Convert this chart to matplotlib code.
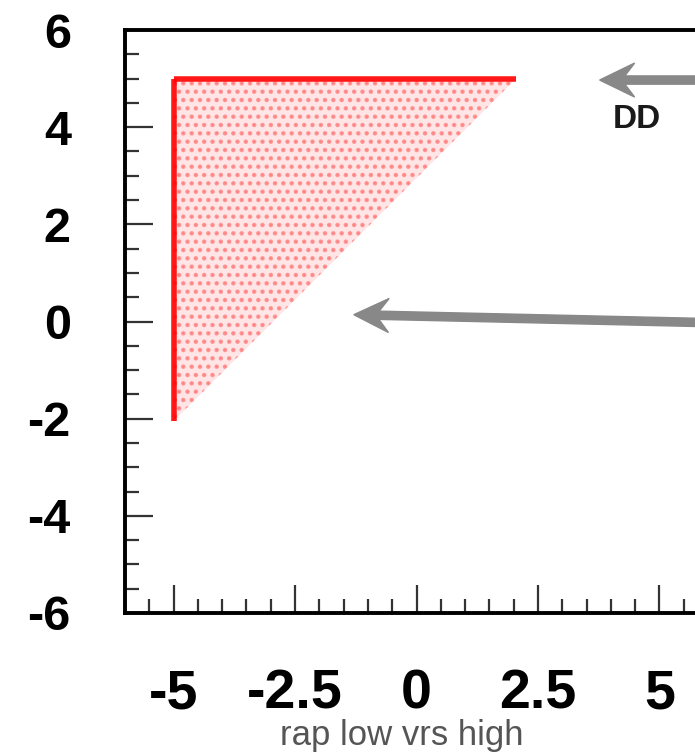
import numpy as np
import matplotlib.pyplot as plt
from matplotlib.patches import Polygon
from matplotlib.ticker import MultipleLocator

plt.rcParams['font.family'] = ['Liberation Sans', 'DejaVu Sans']
plt.rcParams['hatch.linewidth'] = 2.0

# region filled by the events (rap low vs rap high)
tri_x = [-5.0, 2.05, -5.0]
tri_y = [5.0, 5.0, -2.05]

# dense edges of the region
edge_v_x = [-5.0, -5.0]
edge_v_y = [-2.05, 5.0]
edge_h_x = [-5.0, 2.05]
edge_h_y = [5.0, 5.0]

xticks = [-5, -2.5, 0, 2.5, 5]
xticklabels = ['-5', '-2.5', '0', '2.5', '5']
yticks = [-6, -4, -2, 0, 2, 4, 6]
yticklabels = ['-6', '-4', '-2', '0', '2', '4', '6']

# arrows: (tail, tip)
arrow_dd = [(6.3, 4.97), (3.77, 4.97)]
arrow_nd = [(6.3, -0.03), (-1.29, 0.14)]

fig = plt.figure(figsize=(6.95, 7.55), dpi=100)
ax = fig.add_axes([125/695, (755-613)/755, 583/695, 583/755])

pts = np.column_stack([tri_x, tri_y])
ax.add_patch(Polygon(pts, closed=True, facecolor='red', alpha=0.1, edgecolor='none'))
# speckle texture on top of the fill
ax.add_patch(Polygon(pts, closed=True, fill=False, hatch='..',
                     edgecolor=(1, 0, 0, 0.35), lw=0))
ax.plot(edge_v_x, edge_v_y, color='red', lw=4, alpha=0.9, solid_capstyle='butt')
ax.plot(edge_h_x, edge_h_y, color='red', lw=4, alpha=0.9, solid_capstyle='butt')

for (x0, y0), (x1, y1) in [arrow_dd, arrow_nd]:
    ax.arrow(x0, y0, x1 - x0, y1 - y0, width=0.17, head_width=0.7,
             head_length=0.72, overhang=0.28, length_includes_head=True,
             color='#888888', clip_on=False, zorder=5)

ax.text(4.54, 4.16, 'DD', fontsize=24, fontweight='bold', color='#1a1a1a',
        ha='center', va='center')

ax.set_xlim(-6, 6)
ax.set_ylim(-6, 6)
ax.set_xticks(xticks)
ax.set_xticklabels(xticklabels, fontsize=40, fontweight='bold')
ax.set_yticks(yticks)
ax.set_yticklabels(yticklabels, fontsize=35, fontweight='bold')
ax.xaxis.set_minor_locator(MultipleLocator(0.5))
ax.yaxis.set_minor_locator(MultipleLocator(0.5))
ax.tick_params(which='major', direction='in', length=20, width=1.6, color='#333333')
ax.tick_params(which='minor', direction='in', length=10, width=1.6, color='#333333')
ax.tick_params(axis='x', which='major', pad=40)
ax.tick_params(axis='y', which='major', pad=39)

for s in ax.spines.values():
    s.set_linewidth(2.8)
ax.spines['right'].set_visible(False)

ax.set_xlabel('rap low vrs high', fontsize=25, color='#555555', labelpad=-1)
ax.xaxis.label.set_x(0.475)

fig.savefig('out.png', dpi=100)
